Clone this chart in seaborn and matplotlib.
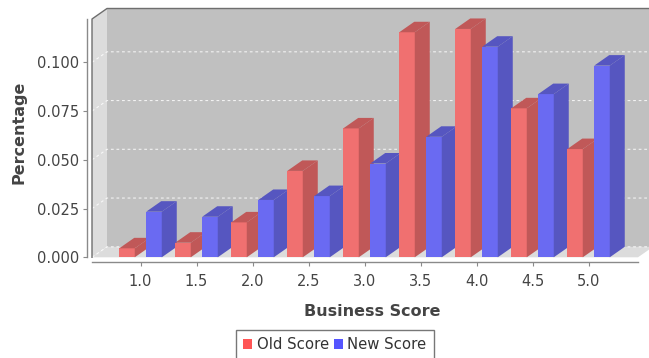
import numpy as np
import pandas as pd
import matplotlib
matplotlib.use("Agg")
import matplotlib.pyplot as plt
import seaborn as sns
from matplotlib.patches import Polygon, Patch
from matplotlib.lines import Line2D

# ---- data ----
scores = ["1.0", "1.5", "2.0", "2.5", "3.0", "3.5", "4.0", "4.5", "5.0"]
old_score = [0.0046, 0.0075, 0.0179, 0.0443, 0.0661, 0.1154, 0.1171, 0.0764, 0.0555]
new_score = [0.0234, 0.0208, 0.0294, 0.0314, 0.0481, 0.0618, 0.1080, 0.0837, 0.0983]
series_names = ["Old Score", "New Score"]
y_ticks = [0.0, 0.025, 0.05, 0.075, 0.1]
y_tick_labels = ["0.000", "0.025", "0.050", "0.075", "0.100"]

front_colors = {"Old Score": "#f07070", "New Score": "#6a6af2"}
dark_colors = {"Old Score": "#c05858", "New Score": "#5656c0"}
legend_colors = {"Old Score": "#ff5555", "New Score": "#5555ff"}

plt.rcParams["font.family"] = ["DejaVu Sans"]

W, H = 649, 358
fig = plt.figure(figsize=(W / 100, H / 100), dpi=100)
fig.patch.set_facecolor("white")
L, R, T, B = 92, 638, 19, 257.3
ax = fig.add_axes([L / W, 1 - B / H, (R - L) / W, (B - T) / H])
ax.set_facecolor("none")
DX, DY = 15, 10.5

df = pd.DataFrame({
    "score": scores * 2,
    "pct": old_score + new_score,
    "series": [series_names[0]] * len(scores) + [series_names[1]] * len(scores),
})
sns.barplot(data=df, x="score", y="pct", hue="series", hue_order=series_names,
            palette=front_colors, width=0.964, gap=0.425, saturation=1,
            legend=False, ax=ax, linewidth=0, errorbar=None)
bars = list(ax.patches)

xlo, xhi = -48.5 / 56, 8 + 49.5 / 56
ytop = (B - T) / 1950
ax.set_xlim(xlo, xhi)
ax.set_ylim(0, ytop)
ux = (xhi - xlo) / (R - L)
uy = ytop / (B - T)
ddx, ddy = DX * ux, DY * uy

# walls
ax.add_patch(Polygon([(xlo + ddx, ddy), (xhi + ddx, ddy), (xhi + ddx, ytop + ddy), (xlo + ddx, ytop + ddy)],
                     closed=True, facecolor="#c0c0c0", edgecolor="none", zorder=0.5, clip_on=False))
ax.add_patch(Polygon([(xlo, 0), (xlo, ytop), (xlo + ddx, ytop + ddy), (xlo + ddx, ddy)],
                     closed=True, facecolor="#dcdcdc", edgecolor="none", zorder=0.6, clip_on=False))
ax.add_patch(Polygon([(xlo, 0), (xhi, 0), (xhi + ddx, ddy), (xlo + ddx, ddy)],
                     closed=True, facecolor="#dcdcdc", edgecolor="none", zorder=0.6, clip_on=False))
for v in y_ticks:
    ax.add_line(Line2D([xlo, xlo + ddx, xhi + ddx], [v, v + ddy, v + ddy], color="white",
                       lw=0.8, dashes=(2.5, 2.5), zorder=1, clip_on=False, alpha=0.8))
ax.add_line(Line2D([xlo, xlo, xlo + ddx, xhi + ddx], [0, ytop, ytop + ddy, ytop + ddy],
                   color="#6e6e6e", lw=1.0, zorder=1.5, clip_on=False))

# 3D faces for bars
n = len(scores)
order = sorted(range(len(bars)), key=lambda i: bars[i].get_x())
for k, i in enumerate(order):
    p = bars[i]
    s = series_names[0] if i < n else series_names[1]
    x0, w, h = p.get_x(), p.get_width(), p.get_height()
    z = 3 + k * 0.01
    p.set_zorder(z)
    p.set_clip_on(False)
    p.set_edgecolor("none")
    ax.add_patch(Polygon([(x0, h), (x0 + w, h), (x0 + w + ddx, h + ddy), (x0 + ddx, h + ddy)],
                         closed=True, facecolor=dark_colors[s], edgecolor="none", zorder=z + 0.001, clip_on=False))
    ax.add_patch(Polygon([(x0 + w, 0), (x0 + w, h), (x0 + w + ddx, h + ddy), (x0 + w + ddx, ddy)],
                         closed=True, facecolor=dark_colors[s], edgecolor="none", zorder=z + 0.001, clip_on=False))

# axes styling
for sp in ["top", "right"]:
    ax.spines[sp].set_visible(False)
ax.spines["left"].set_position(("outward", 5 * 0.72))
ax.spines["bottom"].set_position(("outward", 4.7 * 0.72))
for sp in ["left", "bottom"]:
    ax.spines[sp].set_color("#8a8a8a")
    ax.spines[sp].set_linewidth(1.0)
ax.set_yticks(y_ticks)
ax.set_yticklabels(y_tick_labels)
ax.tick_params(axis="y", length=3, width=0.8, color="#8a8a8a", pad=2.5, labelsize=10.5, labelcolor="#444444")
ax.tick_params(axis="x", length=3, width=0.8, color="#8a8a8a", pad=5.5, labelsize=10.5, labelcolor="#444444")
ax.set_xlabel("")
ax.set_ylabel("")

fig.text(372 / W, 1 - 311 / H, "Business Score", ha="center", va="center",
         fontsize=11.5, fontweight="bold", color="#444444")
fig.text(19 / W, 1 - 132 / H, "Percentage", ha="center", va="center", rotation=90,
         fontsize=11.5, fontweight="bold", color="#444444")

handles = [Patch(facecolor=legend_colors[s], edgecolor="none") for s in series_names]
leg = fig.legend(handles, series_names, loc="upper center", bbox_to_anchor=(335 / W, 1 - 330 / H),
                 ncol=2, frameon=True, fancybox=False, edgecolor="#555555", fontsize=10.7,
                 handlelength=0.6, handleheight=0.6, handletextpad=0.3, columnspacing=0.35,
                 borderpad=0.5, borderaxespad=0)
leg.get_frame().set_linewidth(1.0)
for t in leg.get_texts():
    t.set_color("#333333")

fig.savefig("out.png", dpi=100, facecolor="white")
